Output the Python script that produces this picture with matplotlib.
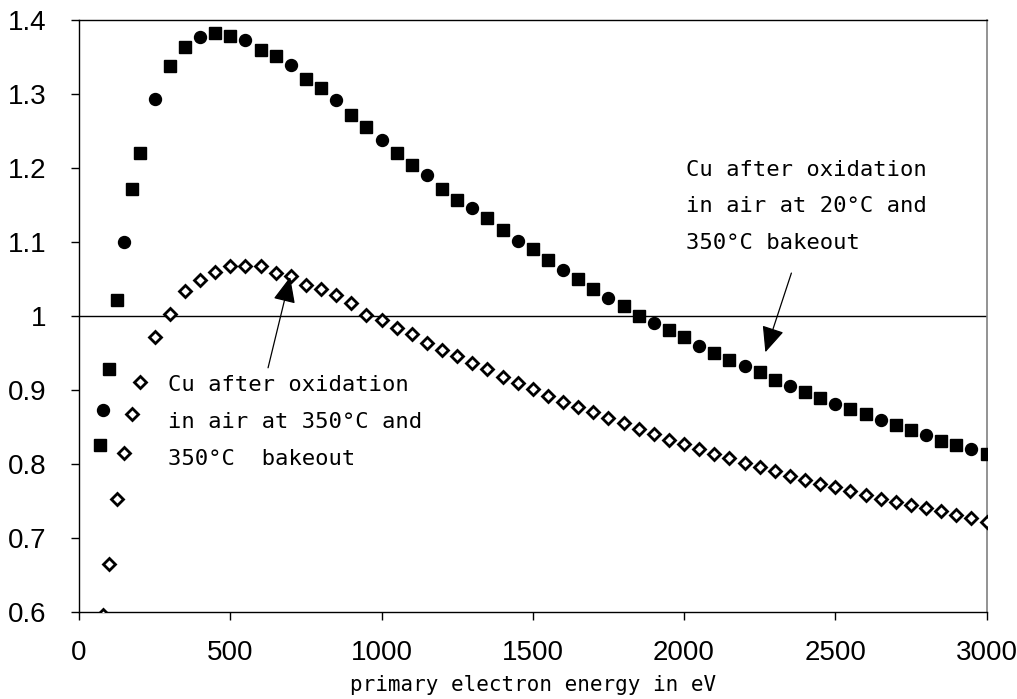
import matplotlib
matplotlib.use("Agg")
import matplotlib.pyplot as plt

# ---- data ----
x_upper = [70, 80, 100, 125, 150, 175, 200, 250,
           300, 350, 400, 450, 500, 550, 600, 650, 700, 750, 800, 850, 900, 950, 1000,
           1050, 1100, 1150, 1200, 1250, 1300, 1350, 1400, 1450, 1500,
           1550, 1600, 1650, 1700, 1750, 1800, 1850, 1900, 1950, 2000,
           2050, 2100, 2150, 2200, 2250, 2300, 2350, 2400, 2450, 2500,
           2550, 2600, 2650, 2700, 2750, 2800, 2850, 2900, 2950, 3000]
y_upper = [0.826, 0.873, 0.928, 1.022, 1.100, 1.172, 1.220, 1.293,
           1.338, 1.364, 1.377, 1.382, 1.379, 1.373, 1.360, 1.352, 1.339, 1.320, 1.308, 1.292, 1.272, 1.256, 1.238,
           1.220, 1.204, 1.191, 1.171, 1.157, 1.146, 1.132, 1.116, 1.101, 1.091,
           1.076, 1.062, 1.050, 1.037, 1.025, 1.014, 1.000, 0.991, 0.981, 0.972,
           0.960, 0.950, 0.941, 0.932, 0.925, 0.914, 0.906, 0.897, 0.889, 0.881,
           0.874, 0.867, 0.859, 0.853, 0.846, 0.839, 0.831, 0.826, 0.820, 0.814]

x_lower = [80, 100, 125, 150, 175, 200, 250,
           300, 350, 400, 450, 500, 550, 600, 650, 700, 750, 800, 850, 900, 950, 1000,
           1050, 1100, 1150, 1200, 1250, 1300, 1350, 1400, 1450, 1500,
           1550, 1600, 1650, 1700, 1750, 1800, 1850, 1900, 1950, 2000,
           2050, 2100, 2150, 2200, 2250, 2300, 2350, 2400, 2450, 2500,
           2550, 2600, 2650, 2700, 2750, 2800, 2850, 2900, 2950, 3000]
y_lower = [0.596, 0.665, 0.753, 0.815, 0.868, 0.911, 0.971,
           1.003, 1.034, 1.049, 1.060, 1.067, 1.068, 1.068, 1.058, 1.054, 1.042, 1.036, 1.029, 1.018, 1.001, 0.994,
           0.984, 0.976, 0.964, 0.954, 0.946, 0.936, 0.928, 0.918, 0.910, 0.901,
           0.892, 0.884, 0.877, 0.870, 0.862, 0.855, 0.847, 0.840, 0.833, 0.827,
           0.820, 0.814, 0.808, 0.802, 0.796, 0.790, 0.784, 0.779, 0.773, 0.769,
           0.763, 0.758, 0.753, 0.749, 0.745, 0.740, 0.736, 0.731, 0.727, 0.721]

x_ticks = [0, 500, 1000, 1500, 2000, 2500, 3000]
y_ticks = [0.6, 0.7, 0.8, 0.9, 1.0, 1.1, 1.2, 1.3, 1.4]
y_ticklabels = ["0.6", "0.7", "0.8", "0.9", "1", "1.1", "1.2", "1.3", "1.4"]

label_upper = "Cu after oxidation\nin air at 20°C and\n350°C bakeout"
label_lower = "Cu after oxidation\nin air at 350°C and\n350°C  bakeout"
xlabel = "primary electron energy in eV"

# ---- figure ----
fig = plt.figure(figsize=(10.17, 6.99), dpi=100)
ax = fig.add_axes([79 / 1017, (699 - 612) / 699, (986.5 - 79) / 1017, 592 / 699])

n_up = len(x_upper)
sq_idx = [i for i in range(n_up) if i % 3 != 1]
ci_idx = [i for i in range(n_up) if i % 3 == 1]
ax.plot(x_upper, y_upper, ls="none", marker="s", ms=8.0, color="black",
        markevery=sq_idx, zorder=3)
ax.plot(x_upper, y_upper, ls="none", marker="o", ms=8.6, color="black",
        markevery=ci_idx, zorder=3)

ax.plot(x_lower, y_lower, ls="none", marker="D", ms=6.0, mfc="white",
        mec="black", mew=2.0, zorder=3)

ax.axhline(1.0, color="black", lw=1.0, zorder=1)

ax.set_xlim(0, 3000)
ax.set_ylim(0.6, 1.4)
ax.set_xticks(x_ticks)
ax.set_yticks(y_ticks)
ax.set_yticklabels(y_ticklabels)

ax.tick_params(axis="both", direction="out", length=5.5, width=1, color="black",
               labelsize=20, labelfontfamily="Liberation Sans")
ax.tick_params(axis="x", pad=15)
ax.tick_params(axis="y", pad=18)

for s in ["left", "bottom", "top"]:
    ax.spines[s].set_color("black")
    ax.spines[s].set_linewidth(1.0)
ax.spines["right"].set_color("#808080")
ax.spines["right"].set_linewidth(1.2)

ax.set_xlabel(xlabel, family="DejaVu Sans Mono", fontsize=15)
ax.xaxis.set_label_coords(0.5, -0.106)

mono = "DejaVu Sans Mono"
arrow_kw = dict(arrowstyle="-|>,head_length=0.8,head_width=0.35",
                color="black", lw=0.9, shrinkA=0, shrinkB=0, mutation_scale=20)
ax.annotate("", xy=(698, 1.0527), xytext=(625, 0.930), arrowprops=arrow_kw)
ax.annotate("", xy=(2269, 0.951), xytext=(2355, 1.058), arrowprops=arrow_kw)

ax.text(294, 0.857, label_lower, family=mono, fontsize=16, ha="left",
        va="center", linespacing=2.05, color="black")
ax.text(2008, 1.148, label_upper, family=mono, fontsize=16, ha="left",
        va="center", linespacing=2.05, color="black")

fig.savefig("out.png", dpi=100)
